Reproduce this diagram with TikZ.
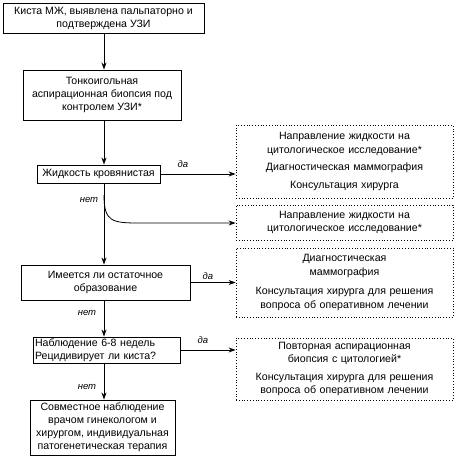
\documentclass[tikz,border=0pt]{standalone}
\usepackage{fontspec}
\setmainfont{Liberation Sans}
\usetikzlibrary{arrows.meta}
\begin{document}
\begin{tikzpicture}[x=1pt,y=-1pt,
  box/.style={draw,line width=0.9pt,align=center,inner sep=0pt,font=\fontsize{10.6}{13}\selectfont},
  rbox/.style={draw,dotted,line width=0.8pt,align=center,inner sep=0pt,text width=217pt,font=\fontsize{10.6}{13.5}\selectfont},
  lab/.style={font=\fontsize{9.5}{10}\selectfont\itshape},
  arr/.style={-{Stealth[length=7pt,width=5pt]},line width=0.8pt}]
\useasboundingbox (0,0) rectangle (455,457);
% left column
\node[box,minimum width=201pt,minimum height=30pt] (b1) at (103.5,18) {Киста МЖ, выявлена пальпаторно и\\подтверждена УЗИ};
\node[box,minimum width=158pt,minimum height=50pt] (b2) at (102,95) {Тонкоигольная\\аспирационная биопсия под\\контролем УЗИ*};
\node[box,minimum width=123pt,minimum height=18pt] (b3) at (98.5,174) {Жидкость кровянистая};
\node[box,minimum width=169pt,minimum height=35pt] (b4) at (105.5,282.5) {Имеется ли остаточное\\образование};
\node[box,minimum width=147pt,minimum height=26pt,text width=143pt,align=left] (b5) at (106.5,350) {Наблюдение 6-8 недель\\Рецидивирует ли киста?};
\node[box,minimum width=145pt,minimum height=55pt] (b6) at (102.5,427.5) {Совместное наблюдение\\врачом гинекологом и\\хирургом, индивидуальная\\патогенетическая терапия};
% right column
\node[rbox,minimum height=73pt] (ra) at (344.5,161.5) {Направление жидкости на\\цитологическое исследование*\\[4pt]Диагностическая маммография\\[4pt]Консультация хирурга};
\node[rbox,minimum height=35pt] (rb) at (344.5,222.5) {Направление жидкости на\\цитологическое исследование*};
\node[rbox,minimum height=69pt] (rc) at (344.5,282.5) {Диагностическая\\маммография\\[6pt]Консультация хирурга для решения\\вопроса об оперативном лечении};
\node[rbox,minimum height=62pt] (rd) at (344.5,369) {Повторная аспирационная\\биопсия с цитологией*\\[4pt]Консультация хирурга для решения\\вопроса об оперативном лечении};
% main column connectors
\coordinate (col) at (104,0);
\coordinate (cs) at (104,195);
\draw[arr] (b1.south -| col) -- (b2.north -| col);
\draw[arr] (b2.south -| col) -- (b3.north -| col);
\draw[arr] (b3.south -| col) -- (b4.north -| col);
\draw[arr] (b4.south -| col) -- (b5.north -| col);
\draw[arr] (b5.south -| col) -- (b6.north -| col);
% yes branches
\draw[arr] (b3.east) -- (b3.east -| ra.west);
\draw[arr] (cs) .. controls (104,222) and (112,223) .. (140,223) -- (rb.west |- 0,223);
\draw[arr] (b4.east) -- (b4.east -| rc.west);
\draw[arr] (b5.east) -- (b5.east -| rd.west);
% labels
\node[lab] (y1) at (183,164) {да};
\node[lab] (y2) at (208,276) {да};
\node[lab] (y3) at (203,340) {да};
\node[lab] (n1) at (89,200) {нет};
\node[lab] (n2) at (87,313) {нет};
\node[lab] (n3) at (87,387) {нет};
\end{tikzpicture}
\end{document}
